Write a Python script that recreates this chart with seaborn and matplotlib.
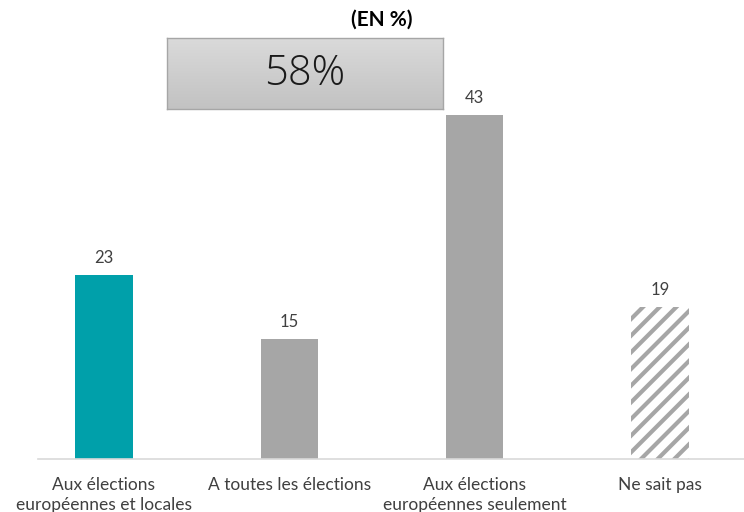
import numpy as np
import pandas as pd
import matplotlib
matplotlib.use("Agg")
import matplotlib.pyplot as plt
import seaborn as sns

categories = ["Aux élections\neuropéennes et locales",
              "A toutes les élections",
              "Aux élections\neuropéennes seulement",
              "Ne sait pas"]
values = [23, 15, 43, 19]
colors = ["#00A0AA", "#A6A6A6", "#A6A6A6", "#FFFFFF"]
headline = "58%"
unit_label = "(EN %)"

sns.set_theme(style="white")
plt.rcParams["font.family"] = ["Lato", "DejaVu Sans"]
plt.rcParams["hatch.linewidth"] = 3.0
plt.rcParams["hatch.color"] = "#A6A6A6"

df = pd.DataFrame({"cat": categories, "val": values})

fig = plt.figure(figsize=(7.44, 5.12), dpi=100)
ax = fig.add_axes([38 / 744, 53 / 512, 706 / 744, 459 / 512])

sns.barplot(data=df, x="cat", y="val", hue="cat", palette=colors,
            legend=False, width=0.31, ax=ax, saturation=1)

for i, p in enumerate(ax.patches):
    p.set_edgecolor("none")
    if i == 3:
        p.set_hatch("//")
        p.set_edgecolor("#A6A6A6")
        p.set_linewidth(0)

for i, v in enumerate(values):
    ax.text(i, v + 2.1, f"{v}", ha="center", va="center",
            fontsize=12, color="#404040")

ax.set_xlim(-0.356, 3.453)
ax.set_ylim(0, 57.4)
ax.set_xlabel("")
ax.set_ylabel("")
ax.set_yticks([])
ax.tick_params(axis="x", length=0, pad=13, labelsize=12.5, labelcolor="#404040")
for lab in ax.get_xticklabels():
    lab.set_linespacing(1.3)
for s in ["top", "right", "left"]:
    ax.spines[s].set_visible(False)
ax.spines["bottom"].set_color("#D9D9D9")
ax.spines["bottom"].set_linewidth(1.2)

# headline box with a soft vertical grey gradient
bx = fig.add_axes([167 / 744, (512 - 109) / 512, 276 / 744, 71 / 512])
grad = np.linspace(0, 1, 100).reshape(-1, 1)
cmap = matplotlib.colors.LinearSegmentedColormap.from_list("g", ["#DADADA", "#C2C2C2"])
bx.imshow(grad, aspect="auto", cmap=cmap, extent=[0, 1, 0, 1], origin="upper")
bx.set_xticks([])
bx.set_yticks([])
for s in bx.spines.values():
    s.set_color("#A6A6A6")
    s.set_linewidth(1)
bx.text(0.5, 0.5, headline, ha="center", va="center", fontsize=30,
        family=["Open Sans", "DejaVu Sans"], fontweight="light",
        color="#1A1A1A", transform=bx.transAxes)

fig.text(382 / 744, 1 - 20 / 512, unit_label, ha="center", va="center",
         fontsize=15, fontweight="bold", color="#000000")

fig.savefig("out.png", dpi=100)
